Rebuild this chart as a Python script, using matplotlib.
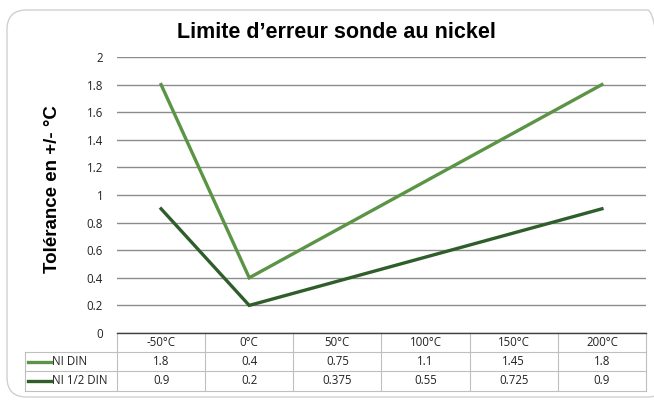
import matplotlib.pyplot as plt
from matplotlib.patches import FancyBboxPatch
from matplotlib.transforms import blended_transform_factory

# Data
categories = ['-50°C', '0°C', '50°C', '100°C', '150°C', '200°C']
ni_din = [1.8, 0.4, 0.75, 1.1, 1.45, 1.8]
ni_half_din = [0.9, 0.2, 0.375, 0.55, 0.725, 0.9]
series_names = ['NI DIN', 'NI 1/2 DIN']
series_labels = [['1.8', '0.4', '0.75', '1.1', '1.45', '1.8'],
                 ['0.9', '0.2', '0.375', '0.55', '0.725', '0.9']]
colors = ['#5A9444', '#2F5E2B']

W, H = 654, 400
fig = plt.figure(figsize=(W / 100, H / 100), dpi=100)
plt.rcParams['font.family'] = ['Open Sans', 'DejaVu Sans']

# rounded chart border
fig.patches.append(FancyBboxPatch((7 / W, 3 / H), 660 / W, 387 / H,
                                  boxstyle='round,pad=0,rounding_size=0.03',
                                  transform=fig.transFigure, fill=False,
                                  edgecolor='#D0D0D0', linewidth=1.0,
                                  mutation_aspect=W / H))

ax = fig.add_axes([117 / W, 67 / H, 529 / W, 276 / H])
x = list(range(len(categories)))
ax.plot(x, ni_din, color=colors[0], linewidth=2.4, solid_joinstyle='miter')
ax.plot(x, ni_half_din, color=colors[1], linewidth=2.4, solid_joinstyle='miter')

ax.set_xlim(-0.5, len(categories) - 0.5)
ax.set_ylim(0, 2)
ax.set_yticks([i * 0.2 for i in range(11)])
ax.set_yticklabels(['0', '0.2', '0.4', '0.6', '0.8', '1', '1.2', '1.4', '1.6', '1.8', '2'],
                   fontsize=8.3, color='#222222')
ax.tick_params(axis='y', length=0, pad=10)
ax.set_xticks([])
ax.grid(axis='y', color='#8C8C8C', linewidth=1.0)
ax.set_axisbelow(True)
for s in ['top', 'right', 'left']:
    ax.spines[s].set_visible(False)
ax.spines['bottom'].set_color('#404040')
ax.spines['bottom'].set_linewidth(1.0)

fig.text(336 / W, 1 - 33 / H, "Limite d\u2019erreur sonde au nickel", fontsize=15.5,
         fontweight='bold', family=['Liberation Sans', 'DejaVu Sans'],
         ha='center', va='center')
fig.text(53 / W, 1 - 189 / H, 'Tolérance en +/- °C', fontsize=13.5, fontweight='bold',
         family=['Liberation Sans', 'DejaVu Sans'], rotation=90,
         ha='center', va='center')

# data table below the axes
tr = blended_transform_factory(ax.transData, ax.transAxes)
rh = 19.2 / 276
grid_c = '#BFBFBF'
left_leg = -0.5 - 92 / 88.2
n = len(categories)

def hline(x0, x1, y):
    ax.plot([x0, x1], [y, y], color=grid_c, linewidth=0.8, transform=tr, clip_on=False)

def vline(xv, y0, y1):
    ax.plot([xv, xv], [y0, y1], color=grid_c, linewidth=0.8, transform=tr, clip_on=False)

# header row
for i in range(n + 1):
    vline(i - 0.5, 0, -3 * rh)
hline(left_leg, n - 0.5, -rh)
hline(left_leg, n - 0.5, -2 * rh)
hline(left_leg, n - 0.5, -3 * rh)
vline(left_leg, -rh, -3 * rh)

for i, c in enumerate(categories):
    ax.text(i, -0.5 * rh, c, transform=tr, ha='center', va='center', fontsize=8.3,
            color='#222222')
for r, (name, labels) in enumerate(zip(series_names, series_labels)):
    yc = -(1.5 + r) * rh
    ax.plot([left_leg + 0.03, left_leg + 0.3], [yc, yc], color=colors[r], linewidth=2.4,
            transform=tr, clip_on=False)
    ax.text(left_leg + 0.31, yc, name, transform=tr, ha='left', va='center', fontsize=8.3,
            color='#222222')
    for i, v in enumerate(labels):
        ax.text(i, yc, v, transform=tr, ha='center', va='center', fontsize=8.3,
                color='#222222')

fig.savefig('out.png', dpi=100)
